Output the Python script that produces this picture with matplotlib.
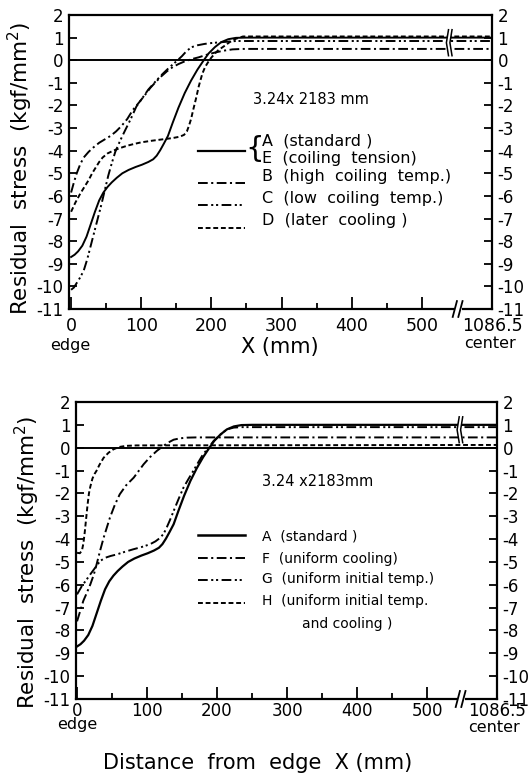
import matplotlib
matplotlib.use('Agg')
import matplotlib.pyplot as plt
from matplotlib.lines import Line2D
from matplotlib.patches import Rectangle

plt.rcParams['font.family'] = ['DejaVu Sans']
plt.rcParams['axes.unicode_minus'] = False
plt.rcParams['lines.scale_dashes'] = False

# ---------------- data ----------------
y_ticks = [2, 1, 0, -1, -2, -3, -4, -5, -6, -7, -8, -9, -10, -11]
y_tick_labels = ['2', '1', '0', '-1', '-2', '-3', '-4', '-5', '-6', '-7', '-8', '-9', '-10', '-11']
x_major = [0, 100, 200, 300, 400, 500, 600]
x_major_labels = ['0', '100', '200', '300', '400', '500', '1086.5']
x_minor = [50, 150, 250, 350, 450]

# A (standard) / E (coiling tension) -- solid, same curve in both panels
A_x = [0, 5, 10, 16, 22, 28, 34, 40, 46, 52, 58, 65, 73, 82, 92, 101, 110, 117, 122, 127,
       132, 138, 145, 153, 162, 171, 180, 188, 196, 205, 214, 224, 235, 250, 600]
A_y = [-8.7, -8.6, -8.45, -8.2, -7.8, -7.25, -6.7, -6.2, -5.85, -5.6, -5.4, -5.2, -5.0, -4.85,
       -4.72, -4.62, -4.5, -4.38, -4.22, -3.98, -3.7, -3.35, -2.75, -2.1, -1.45, -0.9, -0.42,
       -0.05, 0.3, 0.58, 0.8, 0.93, 0.99, 1.0, 1.0]

# B (high coiling temp.) -- dash-dot
B_x = [0, 4, 8, 13, 18, 25, 32, 40, 48, 56, 64, 72, 80, 88, 96, 105, 113, 121, 129, 137,
       145, 153, 162, 172, 182, 193, 205, 217, 230, 245, 600]
B_y = [-5.85, -5.4, -5.0, -4.6, -4.3, -4.05, -3.85, -3.65, -3.5, -3.35, -3.15, -2.9, -2.6,
       -2.2, -1.9, -1.55, -1.22, -0.95, -0.7, -0.48, -0.3, -0.17, -0.05, 0.05, 0.13, 0.24,
       0.34, 0.42, 0.48, 0.5, 0.5]

# C (low coiling temp.) -- dash-dot-dot
C_x = [0, 4, 8, 13, 18, 23, 28, 33, 38, 43, 48, 53, 58, 63, 70, 77, 85, 93, 101, 110, 120,
       130, 140, 150, 158, 165, 172, 180, 190, 200, 215, 235, 600]
C_y = [-10.15, -10.05, -9.85, -9.6, -9.3, -8.8, -8.2, -7.6, -7.0, -6.4, -5.75, -5.1, -4.55,
       -4.05, -3.55, -3.1, -2.6, -2.05, -1.7, -1.3, -0.95, -0.62, -0.32, -0.05, 0.18, 0.42,
       0.58, 0.66, 0.72, 0.76, 0.8, 0.85, 0.85]

# D (later cooling) -- dashed
D_x = [0, 6, 13, 19, 25, 30, 35, 40, 45, 52, 60, 70, 80, 90, 100, 115, 130, 145, 155, 161,
       165, 168, 171, 174, 178, 182, 187, 191, 196, 200, 205, 210, 218, 226, 235, 245, 600]
D_y = [-6.7, -6.3, -5.9, -5.6, -5.3, -5.0, -4.75, -4.5, -4.3, -4.12, -4.0, -3.88, -3.78,
       -3.7, -3.63, -3.56, -3.5, -3.44, -3.38, -3.3, -3.15, -2.9, -2.6, -2.2, -1.7, -1.15,
       -0.6, -0.3, -0.05, 0.12, 0.3, 0.45, 0.62, 0.8, 0.95, 1.05, 1.05]

# F (uniform cooling) -- dash-dot
F_x = [0, 4, 9, 14, 19, 24, 28, 33, 38, 43, 47, 54, 61, 70, 81, 88, 95, 104, 114, 123, 130,
       138, 147, 157, 170, 600]
F_y = [-7.6, -7.2, -6.7, -6.35, -5.98, -5.55, -5.1, -4.5, -3.94, -3.45, -3.06, -2.5, -2.04,
       -1.65, -1.31, -1.02, -0.73, -0.42, -0.14, 0.07, 0.22, 0.35, 0.41, 0.44, 0.45, 0.45]

# G (uniform initial temp.) -- dash-dot-dot
G_x = [0, 7, 13, 19, 26, 33, 40, 48, 57, 68, 80, 92, 104, 112, 119, 124, 128, 133, 138, 145,
       152, 159, 166, 173, 180, 188, 195, 204, 214, 224, 235, 600]
G_y = [-6.42, -6.05, -5.8, -5.54, -5.25, -4.96, -4.82, -4.74, -4.67, -4.56, -4.45, -4.35,
       -4.23, -4.1, -3.94, -3.75, -3.5, -3.15, -2.77, -2.25, -1.75, -1.38, -1.02, -0.65,
       -0.29, 0.0, 0.29, 0.55, 0.8, 0.88, 0.9, 0.9]

# H (uniform initial temp. and cooling) -- dashed
H_x = [0, 4, 7, 9, 11, 13, 15, 17, 19, 22, 25, 28, 32, 38, 45, 52, 60, 70, 85, 600]
H_y = [-4.6, -4.62, -4.5, -4.2, -3.7, -3.1, -2.5, -2.0, -1.7, -1.35, -1.15, -1.0, -0.75,
       -0.44, -0.22, -0.07, 0.03, 0.08, 0.1, 0.12]

# ---------------- layout ----------------
W, H = 528, 782
fig = plt.figure(figsize=(W / 100, H / 100), dpi=100)


def fx(px):
    return px / W


def fy(py):
    return 1 - py / H


LS = {
    'solid': '-',
    'dashdot': (0, (7, 2.5, 1.5, 2.5)),
    'dashdotdot': (0, (7, 2.5, 1.5, 2, 1.5, 2.5)),
    'dashed': (0, (3.5, 2)),
}
LW = 1.4

ax1 = fig.add_axes([fx(69), fy(309), fx(492) - fx(69), fy(15) - fy(309)])
ax2 = fig.add_axes([fx(76), fy(699), fx(497) - fx(76), fy(402) - fy(699)])


def setup(ax, xpad, xmin, xsize):
    ax.set_xlim(xmin, 600)
    ax.set_ylim(-11, 2)
    ax.set_yticks(y_ticks)
    ax.set_yticklabels(y_tick_labels)
    ax.set_xticks(x_major)
    ax.set_xticklabels(x_major_labels)
    ax.set_xticks(x_minor, minor=True)
    ax.tick_params(axis='y', which='both', direction='in', left=True, right=True,
                   labelleft=True, labelright=True, length=6, width=1.3,
                   labelsize=12, pad=4)
    ax.tick_params(axis='x', which='major', direction='in', length=8.5, width=1.3,
                   labelsize=xsize, pad=xpad)
    ax.tick_params(axis='x', which='minor', direction='in', length=4.5, width=1.3)
    for s in ax.spines.values():
        s.set_linewidth(1.6)
    ax.axhline(0, color='black', lw=1.4, zorder=2)


def axis_break(ax, xb):
    ax.add_patch(Rectangle((xb - 6, -11.3), 10, 0.6, facecolor='white',
                           edgecolor='none', clip_on=False, zorder=5))
    for dx in (-9, -1):
        ax.add_artist(Line2D([xb + dx, xb + dx + 6], [-11.35, -10.65], color='black',
                             lw=1.3, clip_on=False, zorder=6))


def line_break(ax, xb, y0, y1):
    ax.add_patch(Rectangle((xb - 2, y0), 6, y1 - y0, facecolor='white',
                           edgecolor='none', zorder=4))
    ym = (y0 + y1) / 2
    ax.plot([xb, xb - 3, xb], [y1, ym, y0], color='black', lw=1.1, zorder=5)
    ax.plot([xb + 5, xb + 2, xb + 5], [y1, ym, y0], color='black', lw=1.1, zorder=5)


setup(ax1, 6, -3, 12.5)
ax1.plot(A_x, A_y, color='black', lw=LW, ls=LS['solid'])
ax1.plot(B_x, B_y, color='black', lw=LW, ls=LS['dashdot'])
ax1.plot(C_x, C_y, color='black', lw=LW, ls=LS['dashdotdot'])
ax1.plot(D_x, D_y, color='black', lw=LW, ls=LS['dashed'])
line_break(ax1, 538, 0.2, 1.35)
axis_break(ax1, 553)

setup(ax2, 2, -1.5, 12)
ax2.plot(A_x, A_y, color='black', lw=LW + 0.2, ls=LS['solid'])
ax2.plot(F_x, F_y, color='black', lw=LW, ls=LS['dashdot'])
ax2.plot(G_x, G_y, color='black', lw=LW, ls=LS['dashdotdot'])
ax2.plot(H_x, H_y, color='black', lw=LW, ls=LS['dashed'])
line_break(ax2, 546, 0.22, 1.35)
axis_break(ax2, 550)

# ---------------- texts ----------------
ylab = 'Residual  stress  (kgf/mm$^2$)'
fig.text(fx(20), fy(168), ylab, rotation=90, ha='center', va='center', fontsize=15.5)
fig.text(fx(27), fy(562), ylab, rotation=90, ha='center', va='center', fontsize=15.5)

fig.text(fx(70), fy(346), 'edge', ha='center', va='center', fontsize=11.5)
fig.text(fx(490), fy(343), 'center', ha='center', va='center', fontsize=11.5)
fig.text(fx(280), fy(347), 'X (mm)', ha='center', va='center', fontsize=15)

fig.text(fx(77), fy(724), 'edge', ha='center', va='center', fontsize=11.5)
fig.text(fx(494), fy(728), 'center', ha='center', va='center', fontsize=11.5)
fig.text(fx(258), fy(763), 'Distance  from  edge  X (mm)', ha='center', va='center',
         fontsize=15)

# panel 1 annotation + legend
fig.text(fx(253), fy(100), '3.24x 2183 mm', ha='left', va='center', fontsize=10.5)


def sample(x0, x1, py, ls, lw=LW):
    fig.add_artist(Line2D([fx(x0), fx(x1)], [fy(py), fy(py)], transform=fig.transFigure,
                          color='black', lw=lw, ls=ls))


sample(198, 245, 151, LS['solid'], 1.6)
sample(198, 245, 183, LS['dashdot'])
sample(198, 245, 205, LS['dashdotdot'])
sample(198, 245, 228, LS['dashed'])
fig.text(fx(255), fy(149), '{', ha='center', va='center', fontsize=21)
fig.text(fx(262), fy(141), 'A  (standard )', ha='left', va='center', fontsize=11.5)
fig.text(fx(262), fy(159), 'E  (coiling  tension)', ha='left', va='center', fontsize=11.5)
fig.text(fx(262), fy(177), 'B  (high  coiling  temp.)', ha='left', va='center', fontsize=11.5)
fig.text(fx(262), fy(199), 'C  (low  coiling  temp.)', ha='left', va='center', fontsize=11.5)
fig.text(fx(262), fy(221), 'D  (later  cooling )', ha='left', va='center', fontsize=11.5)

# panel 2 annotation + legend
fig.text(fx(262), fy(482), '3.24 x2183mm', ha='left', va='center', fontsize=10.5)
sample(198, 245, 535, LS['solid'], 1.8)
sample(198, 245, 558, LS['dashdot'])
sample(198, 245, 580, LS['dashdotdot'])
sample(198, 245, 603, LS['dashed'])
fig.text(fx(262), fy(537), 'A  (standard )', ha='left', va='center', fontsize=10)
fig.text(fx(262), fy(559), 'F  (uniform cooling)', ha='left', va='center', fontsize=10)
fig.text(fx(262), fy(579), 'G  (uniform initial temp.)', ha='left', va='center', fontsize=10)
fig.text(fx(262), fy(601), 'H  (uniform initial temp.', ha='left', va='center', fontsize=10)
fig.text(fx(302), fy(624), 'and cooling )', ha='left', va='center', fontsize=10)

fig.savefig('out.png', dpi=100)
